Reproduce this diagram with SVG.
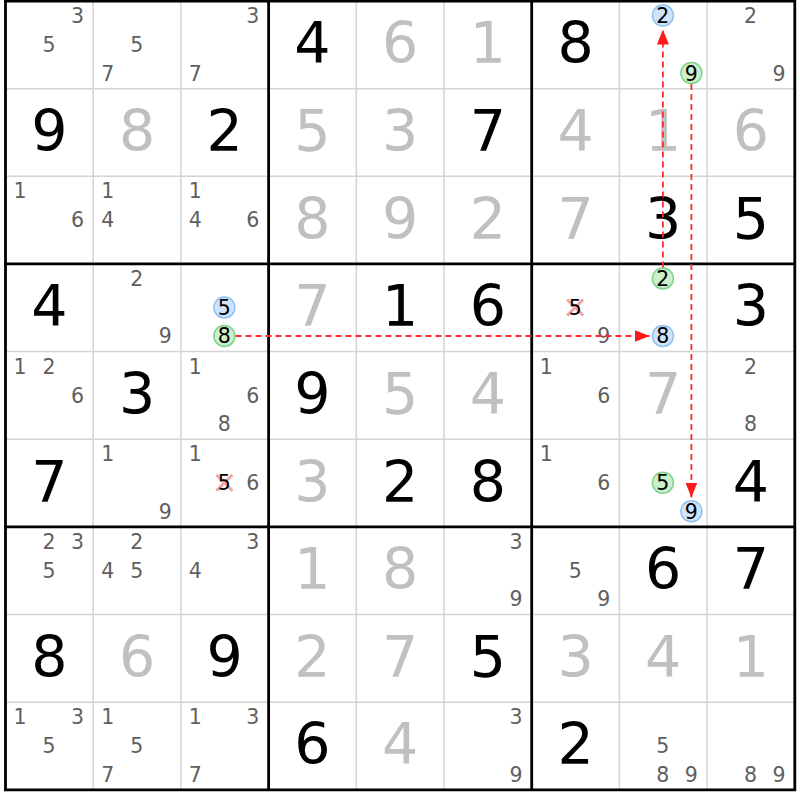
<svg xmlns="http://www.w3.org/2000/svg" width="800" height="800" viewBox="0 0 800 800">
<style>
text{font-family:"DejaVu Sans","Noto Sans",sans-serif;text-anchor:middle}
.g{font-size:57px;fill:#000}
.s{font-size:57px;fill:#c0c0c0}
.c{font-size:20.5px;fill:#5f5f5f}
.h{font-size:20.5px;fill:#000}
.thin{stroke:#d4d4d4;stroke-width:1.5}
.thick{stroke:#000;stroke-width:2.8}
.cb{fill:#cfe4fb;stroke:#8fc1f2;stroke-width:1.5}
.cg{fill:#c9f0c9;stroke:#7fd48a;stroke-width:1.5}
.x{stroke:#f08a8a;stroke-width:2.8;stroke-opacity:0.8}
.arr{stroke:#ff2a2a;stroke-width:1.8;stroke-dasharray:6 4;fill:none;marker-end:url(#ah)}
</style>
<defs>
<marker id="ah" markerUnits="userSpaceOnUse" markerWidth="15" markerHeight="12" refX="15" refY="6" orient="auto">
<path d="M0,0 L15,6 L0,12 z" fill="#ff1a1a"/>
</marker>
</defs>
<rect width="800" height="800" fill="#fff"/>
<g id="grid">
<g class="thin">
<line x1="93.2" y1="1" x2="93.2" y2="789.9"/><line x1="180.9" y1="1" x2="180.9" y2="789.9"/>
<line x1="356.3" y1="1" x2="356.3" y2="789.9"/><line x1="444" y1="1" x2="444" y2="789.9"/>
<line x1="619.4" y1="1" x2="619.4" y2="789.9"/><line x1="707.1" y1="1" x2="707.1" y2="789.9"/>
<line x1="5.5" y1="88.65" x2="794.8" y2="88.65"/><line x1="5.5" y1="176.3" x2="794.8" y2="176.3"/>
<line x1="5.5" y1="351.6" x2="794.8" y2="351.6"/><line x1="5.5" y1="439.25" x2="794.8" y2="439.25"/>
<line x1="5.5" y1="614.55" x2="794.8" y2="614.55"/><line x1="5.5" y1="702.2" x2="794.8" y2="702.2"/>
</g>
<g class="thick">
<line x1="5.5" y1="0" x2="5.5" y2="791"/><line x1="268.6" y1="0" x2="268.6" y2="791"/>
<line x1="531.7" y1="0" x2="531.7" y2="791"/><line x1="794.8" y1="0" x2="794.8" y2="791"/>
<line x1="4" y1="1" x2="796" y2="1"/><line x1="4" y1="263.95" x2="796" y2="263.95"/>
<line x1="4" y1="526.9" x2="796" y2="526.9"/><line x1="4" y1="789.85" x2="796" y2="789.85"/>
</g>
</g>
<!-- row 0 -->
<g id="r0c0" transform="translate(5.5,1)"><text class="c" x="72" y="22">3</text><text class="c" x="43.5" y="51">5</text></g>
<g id="r0c1" transform="translate(93.2,1)"><text class="c" x="43.5" y="51">5</text><text class="c" x="14.5" y="79.5">7</text></g>
<g id="r0c2" transform="translate(180.9,1)"><text class="c" x="72" y="22">3</text><text class="c" x="14.5" y="79.5">7</text></g>
<g id="r0c3" transform="translate(268.6,1)"><text class="g" x="43.85" y="62.3">4</text></g>
<g id="r0c4" transform="translate(356.3,1)"><text class="s" x="43.85" y="62.3">6</text></g>
<g id="r0c5" transform="translate(444,1)"><text class="s" x="43.85" y="62.3">1</text></g>
<g id="r0c6" transform="translate(531.7,1)"><text class="g" x="43.85" y="62.3">8</text></g>
<g id="r0c7" transform="translate(619.4,1)"><circle class="cb" cx="43.5" cy="14.5" r="10.5"/><text class="h" x="43.5" y="22">2</text><circle class="cg" cx="72" cy="72" r="10.5"/><text class="h" x="72" y="79.5">9</text></g>
<g id="r0c8" transform="translate(707.1,1)"><text class="c" x="43.5" y="22">2</text><text class="c" x="72" y="79.5">9</text></g>
<!-- row 1 -->
<g id="r1c0" transform="translate(5.5,88.65)"><text class="g" x="43.85" y="62.3">9</text></g>
<g id="r1c1" transform="translate(93.2,88.65)"><text class="s" x="43.85" y="62.3">8</text></g>
<g id="r1c2" transform="translate(180.9,88.65)"><text class="g" x="43.85" y="62.3">2</text></g>
<g id="r1c3" transform="translate(268.6,88.65)"><text class="s" x="43.85" y="62.3">5</text></g>
<g id="r1c4" transform="translate(356.3,88.65)"><text class="s" x="43.85" y="62.3">3</text></g>
<g id="r1c5" transform="translate(444,88.65)"><text class="g" x="43.85" y="62.3">7</text></g>
<g id="r1c6" transform="translate(531.7,88.65)"><text class="s" x="43.85" y="62.3">4</text></g>
<g id="r1c7" transform="translate(619.4,88.65)"><text class="s" x="43.85" y="62.3">1</text></g>
<g id="r1c8" transform="translate(707.1,88.65)"><text class="s" x="43.85" y="62.3">6</text></g>
<!-- row 2 -->
<g id="r2c0" transform="translate(5.5,176.3)"><text class="c" x="14.5" y="22">1</text><text class="c" x="72" y="51">6</text></g>
<g id="r2c1" transform="translate(93.2,176.3)"><text class="c" x="14.5" y="22">1</text><text class="c" x="14.5" y="51">4</text></g>
<g id="r2c2" transform="translate(180.9,176.3)"><text class="c" x="14.5" y="22">1</text><text class="c" x="14.5" y="51">4</text><text class="c" x="72" y="51">6</text></g>
<g id="r2c3" transform="translate(268.6,176.3)"><text class="s" x="43.85" y="62.3">8</text></g>
<g id="r2c4" transform="translate(356.3,176.3)"><text class="s" x="43.85" y="62.3">9</text></g>
<g id="r2c5" transform="translate(444,176.3)"><text class="s" x="43.85" y="62.3">2</text></g>
<g id="r2c6" transform="translate(531.7,176.3)"><text class="s" x="43.85" y="62.3">7</text></g>
<g id="r2c7" transform="translate(619.4,176.3)"><text class="g" x="43.85" y="62.3">3</text></g>
<g id="r2c8" transform="translate(707.1,176.3)"><text class="g" x="43.85" y="62.3">5</text></g>
<!-- row 3 -->
<g id="r3c0" transform="translate(5.5,263.95)"><text class="g" x="43.85" y="62.3">4</text></g>
<g id="r3c1" transform="translate(93.2,263.95)"><text class="c" x="43.5" y="22">2</text><text class="c" x="72" y="79.5">9</text></g>
<g id="r3c2" transform="translate(180.9,263.95)"><circle class="cb" cx="43.5" cy="43.5" r="10.5"/><text class="h" x="43.5" y="51">5</text><circle class="cg" cx="43.5" cy="72" r="10.5"/><text class="h" x="43.5" y="79.5">8</text></g>
<g id="r3c3" transform="translate(268.6,263.95)"><text class="s" x="43.85" y="62.3">7</text></g>
<g id="r3c4" transform="translate(356.3,263.95)"><text class="g" x="43.85" y="62.3">1</text></g>
<g id="r3c5" transform="translate(444,263.95)"><text class="g" x="43.85" y="62.3">6</text></g>
<g id="r3c6" transform="translate(531.7,263.95)"><path class="x" d="M35.5,35.5 L51.5,51.5 M35.5,51.5 L51.5,35.5"/><text class="h" x="43.5" y="51">5</text><text class="c" x="72" y="79.5">9</text></g>
<g id="r3c7" transform="translate(619.4,263.95)"><circle class="cg" cx="43.5" cy="14.5" r="10.5"/><text class="h" x="43.5" y="22">2</text><circle class="cb" cx="43.5" cy="72" r="10.5"/><text class="h" x="43.5" y="79.5">8</text></g>
<g id="r3c8" transform="translate(707.1,263.95)"><text class="g" x="43.85" y="62.3">3</text></g>
<!-- row 4 -->
<g id="r4c0" transform="translate(5.5,351.6)"><text class="c" x="14.5" y="22">1</text><text class="c" x="43.5" y="22">2</text><text class="c" x="72" y="51">6</text></g>
<g id="r4c1" transform="translate(93.2,351.6)"><text class="g" x="43.85" y="62.3">3</text></g>
<g id="r4c2" transform="translate(180.9,351.6)"><text class="c" x="14.5" y="22">1</text><text class="c" x="72" y="51">6</text><text class="c" x="43.5" y="79.5">8</text></g>
<g id="r4c3" transform="translate(268.6,351.6)"><text class="g" x="43.85" y="62.3">9</text></g>
<g id="r4c4" transform="translate(356.3,351.6)"><text class="s" x="43.85" y="62.3">5</text></g>
<g id="r4c5" transform="translate(444,351.6)"><text class="s" x="43.85" y="62.3">4</text></g>
<g id="r4c6" transform="translate(531.7,351.6)"><text class="c" x="14.5" y="22">1</text><text class="c" x="72" y="51">6</text></g>
<g id="r4c7" transform="translate(619.4,351.6)"><text class="s" x="43.85" y="62.3">7</text></g>
<g id="r4c8" transform="translate(707.1,351.6)"><text class="c" x="43.5" y="22">2</text><text class="c" x="43.5" y="79.5">8</text></g>
<!-- row 5 -->
<g id="r5c0" transform="translate(5.5,439.25)"><text class="g" x="43.85" y="62.3">7</text></g>
<g id="r5c1" transform="translate(93.2,439.25)"><text class="c" x="14.5" y="22">1</text><text class="c" x="72" y="79.5">9</text></g>
<g id="r5c2" transform="translate(180.9,439.25)"><text class="c" x="14.5" y="22">1</text><path class="x" d="M35.5,35.5 L51.5,51.5 M35.5,51.5 L51.5,35.5"/><text class="h" x="43.5" y="51">5</text><text class="c" x="72" y="51">6</text></g>
<g id="r5c3" transform="translate(268.6,439.25)"><text class="s" x="43.85" y="62.3">3</text></g>
<g id="r5c4" transform="translate(356.3,439.25)"><text class="g" x="43.85" y="62.3">2</text></g>
<g id="r5c5" transform="translate(444,439.25)"><text class="g" x="43.85" y="62.3">8</text></g>
<g id="r5c6" transform="translate(531.7,439.25)"><text class="c" x="14.5" y="22">1</text><text class="c" x="72" y="51">6</text></g>
<g id="r5c7" transform="translate(619.4,439.25)"><circle class="cg" cx="43.5" cy="43.5" r="10.5"/><text class="h" x="43.5" y="51">5</text><circle class="cb" cx="72" cy="72" r="10.5"/><text class="h" x="72" y="79.5">9</text></g>
<g id="r5c8" transform="translate(707.1,439.25)"><text class="g" x="43.85" y="62.3">4</text></g>
<!-- row 6 -->
<g id="r6c0" transform="translate(5.5,526.9)"><text class="c" x="43.5" y="22">2</text><text class="c" x="72" y="22">3</text><text class="c" x="43.5" y="51">5</text></g>
<g id="r6c1" transform="translate(93.2,526.9)"><text class="c" x="43.5" y="22">2</text><text class="c" x="14.5" y="51">4</text><text class="c" x="43.5" y="51">5</text></g>
<g id="r6c2" transform="translate(180.9,526.9)"><text class="c" x="72" y="22">3</text><text class="c" x="14.5" y="51">4</text></g>
<g id="r6c3" transform="translate(268.6,526.9)"><text class="s" x="43.85" y="62.3">1</text></g>
<g id="r6c4" transform="translate(356.3,526.9)"><text class="s" x="43.85" y="62.3">8</text></g>
<g id="r6c5" transform="translate(444,526.9)"><text class="c" x="72" y="22">3</text><text class="c" x="72" y="79.5">9</text></g>
<g id="r6c6" transform="translate(531.7,526.9)"><text class="c" x="43.5" y="51">5</text><text class="c" x="72" y="79.5">9</text></g>
<g id="r6c7" transform="translate(619.4,526.9)"><text class="g" x="43.85" y="62.3">6</text></g>
<g id="r6c8" transform="translate(707.1,526.9)"><text class="g" x="43.85" y="62.3">7</text></g>
<!-- row 7 -->
<g id="r7c0" transform="translate(5.5,614.55)"><text class="g" x="43.85" y="62.3">8</text></g>
<g id="r7c1" transform="translate(93.2,614.55)"><text class="s" x="43.85" y="62.3">6</text></g>
<g id="r7c2" transform="translate(180.9,614.55)"><text class="g" x="43.85" y="62.3">9</text></g>
<g id="r7c3" transform="translate(268.6,614.55)"><text class="s" x="43.85" y="62.3">2</text></g>
<g id="r7c4" transform="translate(356.3,614.55)"><text class="s" x="43.85" y="62.3">7</text></g>
<g id="r7c5" transform="translate(444,614.55)"><text class="g" x="43.85" y="62.3">5</text></g>
<g id="r7c6" transform="translate(531.7,614.55)"><text class="s" x="43.85" y="62.3">3</text></g>
<g id="r7c7" transform="translate(619.4,614.55)"><text class="s" x="43.85" y="62.3">4</text></g>
<g id="r7c8" transform="translate(707.1,614.55)"><text class="s" x="43.85" y="62.3">1</text></g>
<!-- row 8 -->
<g id="r8c0" transform="translate(5.5,702.2)"><text class="c" x="14.5" y="22">1</text><text class="c" x="72" y="22">3</text><text class="c" x="43.5" y="51">5</text></g>
<g id="r8c1" transform="translate(93.2,702.2)"><text class="c" x="14.5" y="22">1</text><text class="c" x="43.5" y="51">5</text><text class="c" x="14.5" y="79.5">7</text></g>
<g id="r8c2" transform="translate(180.9,702.2)"><text class="c" x="14.5" y="22">1</text><text class="c" x="72" y="22">3</text><text class="c" x="14.5" y="79.5">7</text></g>
<g id="r8c3" transform="translate(268.6,702.2)"><text class="g" x="43.85" y="62.3">6</text></g>
<g id="r8c4" transform="translate(356.3,702.2)"><text class="s" x="43.85" y="62.3">4</text></g>
<g id="r8c5" transform="translate(444,702.2)"><text class="c" x="72" y="22">3</text><text class="c" x="72" y="79.5">9</text></g>
<g id="r8c6" transform="translate(531.7,702.2)"><text class="g" x="43.85" y="62.3">2</text></g>
<g id="r8c7" transform="translate(619.4,702.2)"><text class="c" x="43.5" y="51">5</text><text class="c" x="43.5" y="79.5">8</text><text class="c" x="72" y="79.5">9</text></g>
<g id="r8c8" transform="translate(707.1,702.2)"><text class="c" x="43.5" y="79.5">8</text><text class="c" x="72" y="79.5">9</text></g>
<g id="connectors">
<line class="arr" x1="662.9" y1="267.5" x2="662.9" y2="29.5"/>
<line class="arr" x1="691.4" y1="84" x2="691.4" y2="497.5"/>
<line class="arr" x1="235.5" y1="336" x2="649.5" y2="336"/>
</g>
</svg>
